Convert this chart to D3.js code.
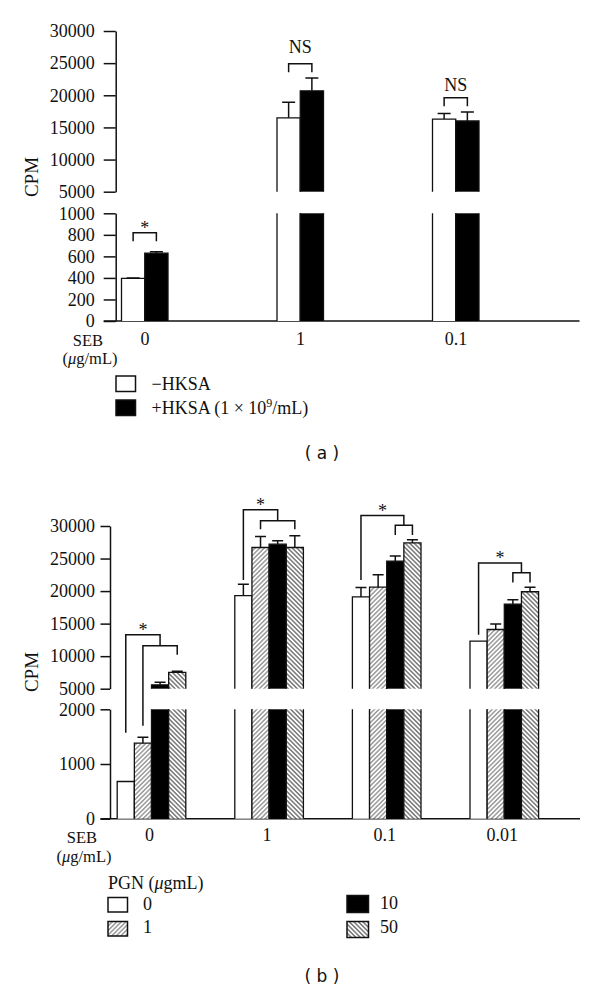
<!DOCTYPE html>
<html>
<head>
<meta charset="utf-8">
<script src="https://cdn.jsdelivr.net/npm/d3@7"></script>
<style>
  html, body { margin: 0; padding: 0; background: #fff; }
  svg { display: block; }
  text { font-family: "Liberation Serif", "Times New Roman", serif; fill: #111; }
  .sans { font-family: "DejaVu Sans", Verdana, sans-serif; }
</style>
</head>
<body>
<script>
// ---------------- DATA ----------------
// Panel (a)
const groupsA = ["0", "1", "0.1"];
const seriesA = ["−HKSA", "+HKSA"];
const valuesMinusHKSA = [395, 16500, 16300];
const valuesPlusHKSA  = [630, 20700, 16000];
const errMinusHKSA = [5, 2400, 850];
const errPlusHKSA  = [12, 2000, 1400];
const ticksALow  = [0, 200, 400, 600, 800, 1000];
const ticksAHigh = [5000, 10000, 15000, 20000, 25000, 30000];
const bracketsA = [
  { group: "0",   top: 820,   leg: 740,   label: "*",  labelAt: null },
  { group: "1",   top: 24900, leg: 23600, label: "NS", labelAt: 26600 },
  { group: "0.1", top: 19600, leg: 18300, label: "NS", labelAt: 20700 }
];

// Panel (b)
const groupsB = ["0", "1", "0.1", "0.01"];
const seriesB = ["0", "1", "10", "50"];
const valuesPGN0  = [680, 19300, 19100, 12300];
const valuesPGN1  = [1380, 26700, 20600, 14100];
const valuesPGN10 = [5600, 27200, 24600, 18000];
const valuesPGN50 = [7500, 26700, 27400, 19900];
const errPGN0  = [0, 1750, 1450, 0];
const errPGN1  = [110, 1700, 1900, 850];
const errPGN10 = [400, 550, 800, 650];
const errPGN50 = [200, 1800, 500, 700];
const ticksBLow  = [0, 1000, 2000];
const ticksBHigh = [5000, 10000, 15000, 20000, 25000, 30000];
const bracketsB = [
  { group: "0",    outerTop: 13300, outerLeg: 1570,  innerTop: 11600, innerFrom: 1, innerTo: 3, innerLegs: [1700, 10200] },
  { group: "1",    outerTop: 32500, outerLeg: 21700, innerTop: 30800, innerFrom: 1, innerTo: 3, innerLegs: [29500, 29500] },
  { group: "0.1",  outerTop: 31600, outerLeg: 21700, innerTop: 30100, innerFrom: 2, innerTo: 3, innerLegs: [28600, 28600] },
  { group: "0.01", outerTop: 24300, outerLeg: 13300, innerTop: 22800, innerFrom: 2, innerTo: 3, innerLegs: [21300, 21300] }
];

// ---------------- DRAW ----------------
const W = 600, H = 990;
const svg = d3.select("body").append("svg").attr("width", W).attr("height", H);
const FS = 18;
const FS_UNIT = 16.5;

const defs = svg.append("defs");
function hatch(id, angle, spacing, sw, color) {
  const p = defs.append("pattern").attr("id", id)
    .attr("patternUnits", "userSpaceOnUse")
    .attr("width", spacing).attr("height", spacing)
    .attr("patternTransform", `rotate(${angle})`);
  p.append("rect").attr("width", spacing).attr("height", spacing).attr("fill", "#fff");
  p.append("line").attr("x1", spacing / 2).attr("x2", spacing / 2)
    .attr("y1", 0).attr("y2", spacing)
    .attr("stroke", color).attr("stroke-width", sw);
}
hatch("hatch1", 45, 3.2, 0.9, "#555");
hatch("hatch50", -45, 3.2, 1.0, "#333");

function makeBroken(lowDomain, lowRange, highDomain, highRange) {
  const low = d3.scaleLinear().domain(lowDomain).range(lowRange);
  const high = d3.scaleLinear().domain(highDomain).range(highRange);
  const f = v => v <= lowDomain[1] ? low(v) : high(v);
  f.low = low; f.high = high;
  f.lowMax = lowDomain[1]; f.highMin = highDomain[0];
  return f;
}

function drawPanel(cfg) {
  const g = svg.append("g");
  const y = cfg.y;
  const fmt = d3.format("d");
  const axLow = d3.axisLeft(y.low).tickValues(cfg.ticksLow).tickFormat(fmt).tickSize(cfg.tickLen).tickSizeOuter(0).tickPadding(cfg.tickPad);
  const axHigh = d3.axisLeft(y.high).tickValues(cfg.ticksHigh).tickFormat(fmt).tickSize(cfg.tickLen).tickSizeOuter(0).tickPadding(cfg.tickPad);
  [axLow, axHigh].forEach(ax => {
    const a = g.append("g").attr("transform", `translate(${cfg.axisX},0)`).call(ax);
    a.selectAll("path.domain").attr("stroke", "#111").attr("stroke-width", 1.5);
    a.selectAll(".tick line").attr("stroke", "#111").attr("stroke-width", 1.5);
    a.selectAll(".tick text").attr("font-family", "Liberation Serif, serif")
      .attr("font-size", FS).attr("fill", "#111").attr("dy", "0.32em");
  });
  g.append("line").attr("x1", cfg.axisX - cfg.tickLen).attr("x2", cfg.xEnd)
    .attr("y1", y.low(0)).attr("y2", y.low(0)).attr("stroke", "#111").attr("stroke-width", 1.5);

  const x0 = d3.scaleBand().domain(cfg.groups).range(cfg.groupRange).padding(0);
  const x1 = d3.scaleBand().domain(cfg.series.map((d, i) => i)).range(cfg.innerRange).padding(0);
  const cx = (gi, si) => x0(cfg.groups[gi]) + x0.bandwidth() / 2 + x1(si) + x1.bandwidth() / 2;

  const bars = g.append("g");
  cfg.values.forEach((vals, si) => {
    vals.forEach((v, gi) => {
      const xl = x0(cfg.groups[gi]) + x0.bandwidth() / 2 + x1(si);
      const xr = xl + x1.bandwidth();
      const pieces = [];
      if (v <= y.lowMax) pieces.push({ a: 0, b: v, top: true, s: y.low });
      else {
        pieces.push({ a: 0, b: y.lowMax, top: false, s: y.low });
        pieces.push({ a: y.highMin, b: v, top: true, s: y.high });
      }
      pieces.forEach(p => {
        const yb = p.s(p.a), yt = p.s(p.b);
        bars.append("rect").attr("x", xl).attr("y", yt).attr("width", xr - xl).attr("height", yb - yt)
          .attr("fill", cfg.fills[si]);
        const d = p.top ? `M${xl},${yb}V${yt}H${xr}V${yb}` : `M${xl},${yb}V${yt}M${xr},${yt}V${yb}`;
        bars.append("path").attr("d", d).attr("fill", "none").attr("stroke", "#111").attr("stroke-width", 1.3);
      });
      const e = cfg.errors[si][gi];
      if (e > 0) {
        const c = (xl + xr) / 2;
        const yt = y(v), ye = y(v + e);
        bars.append("path").attr("d", `M${c},${yt}V${ye}M${c - cfg.cap / 2},${ye}H${c + cfg.cap / 2}`)
          .attr("fill", "none").attr("stroke", "#111").attr("stroke-width", 1.5);
      }
    });
  });

  cfg.groups.forEach((gname) => {
    g.append("text").attr("x", x0(gname) + x0.bandwidth() / 2 + cfg.labelShift).attr("y", cfg.labelY)
      .attr("text-anchor", "middle").attr("font-size", FS).text(gname);
  });
  g.append("text").attr("x", cfg.sebX).attr("y", cfg.sebY).attr("text-anchor", "middle")
    .attr("font-size", FS_UNIT).text("SEB");
  const u = g.append("text").attr("x", cfg.sebX + 2).attr("y", cfg.sebY + 18.5)
    .attr("text-anchor", "middle").attr("font-size", FS_UNIT);
  u.append("tspan").text("(");
  u.append("tspan").attr("font-style", "italic").text("μ");
  u.append("tspan").text("g/mL)");

  g.append("text").attr("transform", `translate(${cfg.cpmX},${cfg.cpmY}) rotate(-90)`)
    .attr("text-anchor", "middle").attr("dy", "0.35em").attr("font-size", FS + 1).text("CPM");

  return { g, x0, x1, cx };
}

// ----- Panel (a)
const yA = makeBroken([0, 1000], [321, 213.3], [5000, 30000], [191.7, 31]);
const pa = drawPanel({
  y: yA, ticksLow: ticksALow, ticksHigh: ticksAHigh, tickLen: 12, tickPad: 9,
  axisX: 115.7, xEnd: 579.5,
  groups: groupsA, series: seriesA, groupRange: [66.25, 532.75], innerRange: [-22.5, 24],
  values: [valuesMinusHKSA, valuesPlusHKSA], errors: [errMinusHKSA, errPlusHKSA],
  fills: ["#fff", "#000"], cap: 13,
  labelY: 345, labelShift: 1, sebX: 88, sebY: 345.5, cpmX: 31, cpmY: 177
});
const bra = pa.g.append("g");
bracketsA.forEach(b => {
  const gi = groupsA.indexOf(b.group);
  const xa = pa.cx(gi, 0), xb = pa.cx(gi, 1);
  const yt = yA(b.top), yl = yA(b.leg);
  bra.append("path").attr("d", `M${xa},${yl}V${yt}H${xb}V${yl}`).attr("fill", "none")
    .attr("stroke", "#111").attr("stroke-width", 1.5);
  const ty = b.labelAt === null ? yt + 1 : yA(b.labelAt);
  bra.append("text").attr("x", (xa + xb) / 2).attr("y", ty).attr("text-anchor", "middle")
    .attr("font-size", FS).text(b.label);
});
const legA = svg.append("g");
[["#fff", 376], ["#000", 400]].forEach((d) => {
  legA.append("rect").attr("x", 116).attr("y", d[1]).attr("width", 19.5).attr("height", 15.5)
    .attr("fill", d[0]).attr("stroke", "#111").attr("stroke-width", 1.5);
});
legA.append("text").attr("x", 151.5).attr("y", 389.5).attr("font-size", FS).text(seriesA[0]);
const la2 = legA.append("text").attr("x", 151.5).attr("y", 413.5).attr("font-size", FS);
la2.append("tspan").text("+HKSA (1 × 10");
la2.append("tspan").attr("font-size", 12).attr("dy", -7).text("9");
la2.append("tspan").attr("dy", 7).text("/mL)");
svg.append("text").attr("class", "sans").attr("x", 322).attr("y", 459).attr("text-anchor", "middle")
  .attr("font-size", 17).attr("xml:space", "preserve").text("( a )");

// ----- Panel (b)
const yB = makeBroken([0, 2000], [818.7, 709.3], [5000, 30000], [688.7, 526]);
const pb = drawPanel({
  y: yB, ticksLow: ticksBLow, ticksHigh: ticksBHigh, tickLen: 9.5, tickPad: 5.5,
  axisX: 110, xEnd: 580,
  groups: groupsB, series: seriesB, groupRange: [92.7, 563.1], innerRange: [-34.3, 34.3],
  values: [valuesPGN0, valuesPGN1, valuesPGN10, valuesPGN50], errors: [errPGN0, errPGN1, errPGN10, errPGN50],
  fills: ["#fff", "url(#hatch1)", "#000", "url(#hatch50)"], cap: 11,
  labelY: 841, labelShift: -2, sebX: 82, sebY: 843, cpmX: 31, cpmY: 672
});
const brb = pb.g.append("g");
bracketsB.forEach(b => {
  const gi = groupsB.indexOf(b.group);
  const xw = pb.cx(gi, 0);
  const xa = pb.cx(gi, b.innerFrom), xb = pb.cx(gi, b.innerTo);
  const xm = (xa + xb) / 2;
  const yo = yB(b.outerTop), yi = yB(b.innerTop);
  brb.append("path").attr("d", `M${xw},${yB(b.outerLeg)}V${yo}H${xm}V${yi}`)
    .attr("fill", "none").attr("stroke", "#111").attr("stroke-width", 1.5);
  brb.append("path").attr("d", `M${xa},${yB(b.innerLegs[0])}V${yi}H${xb}V${yB(b.innerLegs[1])}`)
    .attr("fill", "none").attr("stroke", "#111").attr("stroke-width", 1.5);
  brb.append("text").attr("x", (xw + xm) / 2).attr("y", yo + 1).attr("text-anchor", "middle")
    .attr("font-size", FS).text("*");
});
const legB = svg.append("g");
const lt = legB.append("text").attr("x", 108).attr("y", 888.5).attr("font-size", FS);
lt.append("tspan").text("PGN (");
lt.append("tspan").attr("font-style", "italic").text("μ");
lt.append("tspan").text("gmL)");
const legItems = [
  { x: 108, y: 897.5, w: 19.5, h: 14.5, labelX: 143, labelY: 910 },
  { x: 108, y: 921.5, w: 19.5, h: 14.5, labelX: 143, labelY: 933 },
  { x: 347, y: 895.5, w: 21.5, h: 17, labelX: 380, labelY: 909 },
  { x: 347, y: 921.5, w: 21.5, h: 16, labelX: 380, labelY: 932.5 }
];
const legFills = ["#fff", "url(#hatch1)", "#000", "url(#hatch50)"];
seriesB.forEach((s, i) => {
  const it = legItems[i];
  legB.append("rect").attr("x", it.x).attr("y", it.y).attr("width", it.w).attr("height", it.h)
    .attr("fill", legFills[i]).attr("stroke", "#111").attr("stroke-width", 1.5);
  legB.append("text").attr("x", it.labelX).attr("y", it.labelY).attr("font-size", FS).text(s);
});
svg.append("text").attr("class", "sans").attr("x", 322).attr("y", 982).attr("text-anchor", "middle")
  .attr("font-size", 17).attr("xml:space", "preserve").text("( b )");
</script>
</body>
</html>
